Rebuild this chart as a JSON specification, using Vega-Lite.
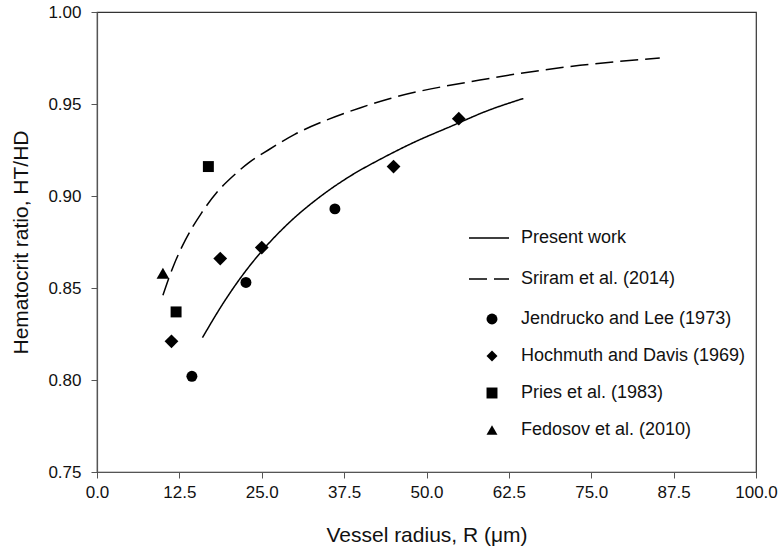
{
  "$schema": "https://vega.github.io/schema/vega-lite/v6.json",
  "autosize": {"type": "none"},
  "width": 659,
  "height": 460,
  "padding": {"left": 97, "top": 12, "right": 25, "bottom": 81},
  "background": "white",
  "config": {
    "view": {"stroke": "#333", "strokeWidth": 1.2},
    "font": "Liberation Sans",
    "axis": {
      "grid": false,
      "labelFlush": false,
      "domainColor": "#555",
      "domainWidth": 1.2,
      "tickColor": "#555",
      "tickSize": 6,
      "labelFont": "Liberation Sans",
      "labelFontSize": 17,
      "labelColor": "#111",
      "titleFont": "Liberation Sans",
      "titleFontSize": 21,
      "titleFontWeight": "normal",
      "titleColor": "#111"
    },
    "legend": {
      "labelFont": "Liberation Sans",
      "labelFontSize": 18,
      "labelColor": "#111",
      "labelLimit": 0
    }
  },
  "datasets": {
    "curves": [
      {"series": "Present work", "R": 16.0, "ratio": 0.823},
      {"series": "Present work", "R": 19.2, "ratio": 0.842},
      {"series": "Present work", "R": 22.3, "ratio": 0.858},
      {"series": "Present work", "R": 25.0, "ratio": 0.870},
      {"series": "Present work", "R": 29.3, "ratio": 0.886},
      {"series": "Present work", "R": 34.0, "ratio": 0.900},
      {"series": "Present work", "R": 38.5, "ratio": 0.911},
      {"series": "Present work", "R": 43.0, "ratio": 0.920},
      {"series": "Present work", "R": 48.0, "ratio": 0.929},
      {"series": "Present work", "R": 53.8, "ratio": 0.938},
      {"series": "Present work", "R": 59.0, "ratio": 0.946},
      {"series": "Present work", "R": 64.7, "ratio": 0.953},
      {"series": "Sriram et al. (2014)", "R": 10.0, "ratio": 0.846},
      {"series": "Sriram et al. (2014)", "R": 11.6, "ratio": 0.862},
      {"series": "Sriram et al. (2014)", "R": 13.4, "ratio": 0.876},
      {"series": "Sriram et al. (2014)", "R": 15.9, "ratio": 0.891},
      {"series": "Sriram et al. (2014)", "R": 18.2, "ratio": 0.902},
      {"series": "Sriram et al. (2014)", "R": 20.7, "ratio": 0.911},
      {"series": "Sriram et al. (2014)", "R": 23.0, "ratio": 0.918},
      {"series": "Sriram et al. (2014)", "R": 26.0, "ratio": 0.925},
      {"series": "Sriram et al. (2014)", "R": 30.0, "ratio": 0.9335},
      {"series": "Sriram et al. (2014)", "R": 35.0, "ratio": 0.9415},
      {"series": "Sriram et al. (2014)", "R": 40.0, "ratio": 0.948},
      {"series": "Sriram et al. (2014)", "R": 44.5, "ratio": 0.953},
      {"series": "Sriram et al. (2014)", "R": 58.1, "ratio": 0.963},
      {"series": "Sriram et al. (2014)", "R": 73.3, "ratio": 0.971},
      {"series": "Sriram et al. (2014)", "R": 85.4, "ratio": 0.975}
    ],
    "points": [
      {"series": "Jendrucko and Lee (1973)", "R": 14.4, "ratio": 0.802},
      {"series": "Jendrucko and Lee (1973)", "R": 22.6, "ratio": 0.853},
      {"series": "Jendrucko and Lee (1973)", "R": 36.1, "ratio": 0.893},
      {"series": "Hochmuth and Davis (1969)", "R": 11.3, "ratio": 0.821},
      {"series": "Hochmuth and Davis (1969)", "R": 18.7, "ratio": 0.866},
      {"series": "Hochmuth and Davis (1969)", "R": 25.0, "ratio": 0.872},
      {"series": "Hochmuth and Davis (1969)", "R": 45.0, "ratio": 0.916},
      {"series": "Hochmuth and Davis (1969)", "R": 54.9, "ratio": 0.942},
      {"series": "Pries et al. (1983)", "R": 12.0, "ratio": 0.837},
      {"series": "Pries et al. (1983)", "R": 16.9, "ratio": 0.916},
      {"series": "Fedosov et al. (2010)", "R": 10.0, "ratio": 0.858}
    ]
  },
  "encoding": {
    "x": {
      "field": "R", "type": "quantitative",
      "scale": {"domain": [0, 100], "nice": false, "zero": false},
      "axis": {"values": [0, 12.5, 25, 37.5, 50, 62.5, 75, 87.5, 100], "format": ".1f", "title": "Vessel radius, R (μm)", "labelPadding": 6, "titlePadding": 24}
    },
    "y": {
      "field": "ratio", "type": "quantitative",
      "scale": {"domain": [0.75, 1.0], "nice": false, "zero": false},
      "axis": {"values": [0.75, 0.8, 0.85, 0.9, 0.95, 1.0], "format": ".2f", "title": "Hematocrit ratio, HT/HD", "labelPadding": 10, "titlePadding": 16}
    }
  },
  "resolve": {"legend": {"strokeDash": "independent", "shape": "independent"}},
  "layer": [
    {
      "data": {"name": "curves"},
      "mark": {"type": "line", "color": "black", "strokeWidth": 1.5, "interpolate": "monotone"},
      "encoding": {
        "strokeDash": {
          "field": "series", "type": "nominal",
          "scale": {
            "domain": ["Present work", "Sriram et al. (2014)"],
            "range": [[1, 0], [18, 7]]
          },
          "legend": {
            "title": null,
            "orient": "none",
            "legendX": 371,
            "legendY": 205,
            "padding": 0,
            "labelOffset": 11,
            "rowPadding": 11,
            "symbolType": "stroke",
            "symbolSize": 1600,
            "symbolStrokeColor": "black",
            "symbolStrokeWidth": 1.5
          }
        }
      }
    },
    {
      "data": {"name": "points"},
      "mark": {"type": "point", "filled": true, "color": "black", "opacity": 1},
      "encoding": {
        "shape": {
          "field": "series", "type": "nominal",
          "scale": {
            "domain": ["Jendrucko and Lee (1973)", "Hochmuth and Davis (1969)", "Pries et al. (1983)", "Fedosov et al. (2010)"],
            "range": ["circle", "diamond", "square", "triangle-up"]
          },
          "legend": {
            "title": null,
            "orient": "none",
            "legendX": 386,
            "legendY": 298,
            "padding": 0,
            "labelOffset": 20,
            "rowPadding": 19,
            "symbolSize": 120,
            "symbolFillColor": "black",
            "symbolStrokeColor": "black",
            "symbolStrokeWidth": 0,
            "symbolOpacity": 1,
            "encode": {
              "symbols": {
                "update": {
                  "size": {"signal": "datum.value === 'Hochmuth and Davis (1969)' ? 190 : datum.value === 'Fedosov et al. (2010)' ? 160 : 120"}
                }
              }
            }
          }
        },
        "size": {
          "condition": [
            {"test": "datum.series === 'Hochmuth and Davis (1969)'", "value": 190},
            {"test": "datum.series === 'Fedosov et al. (2010)'", "value": 160}
          ],
          "value": 120
        }
      }
    }
  ]
}
